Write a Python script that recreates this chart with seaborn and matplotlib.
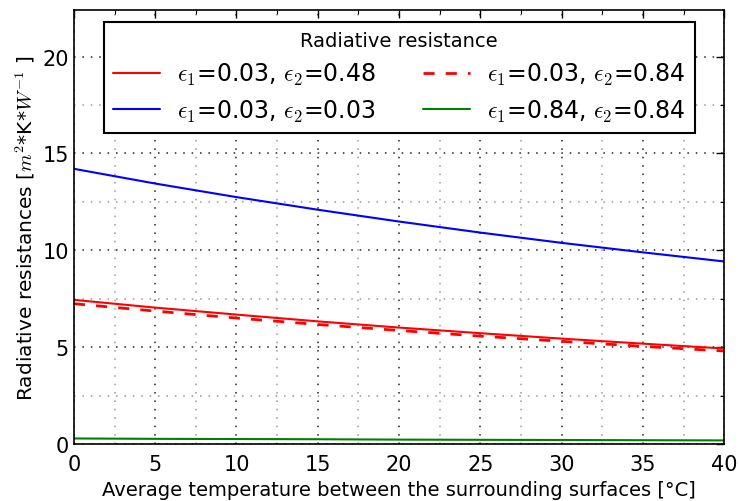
import seaborn as sns
import pandas as pd
import matplotlib.pyplot as plt
from matplotlib.ticker import MultipleLocator

# average temperature [C] and radiative resistance
temp = [0, 5, 10, 15, 20, 25, 30, 35, 40]
r_003_048 = [7.45, 7.05, 6.69, 6.34, 6.02, 5.73, 5.45, 5.19, 4.94]
r_003_003 = [14.21, 13.45, 12.75, 12.10, 11.49, 10.92, 10.39, 9.90, 9.43]
r_003_084 = [7.25, 6.87, 6.51, 6.18, 5.87, 5.58, 5.31, 5.05, 4.81]
r_084_084 = [0.30, 0.28, 0.27, 0.26, 0.24, 0.23, 0.22, 0.21, 0.20]

labels = [r"$\epsilon_1$=0.03, $\epsilon_2$=0.48",
          r"$\epsilon_1$=0.03, $\epsilon_2$=0.03",
          r"$\epsilon_1$=0.03, $\epsilon_2$=0.84",
          r"$\epsilon_1$=0.84, $\epsilon_2$=0.84"]

sns.set_style("white")
plt.rcParams['font.family'] = ['DejaVu Sans']
plt.rcParams['mathtext.fontset'] = 'cm'
plt.rcParams['text.color'] = 'black'
plt.rcParams['axes.labelcolor'] = 'black'
plt.rcParams['xtick.color'] = 'black'
plt.rcParams['ytick.color'] = 'black'

fig, ax = plt.subplots(figsize=(7.39, 5.02), dpi=100)

series = [r_003_048, r_003_003, r_003_084, r_084_084]
colors = ['red', 'blue', 'red', 'green']
styles = ['-', '-', (0, (4, 4)), '-']
for vals, c, ls, lab in zip(series, colors, styles, labels):
    df = pd.DataFrame({'T': temp, 'R': vals})
    sns.lineplot(data=df, x='T', y='R', color=c, linestyle=ls, label=lab,
                 linewidth=1.5 if ls == '-' else 2, ax=ax)

ax.set_xlim(0, 40)
ax.set_ylim(0, 22.4)
ax.xaxis.set_major_locator(MultipleLocator(5))
ax.xaxis.set_minor_locator(MultipleLocator(2.5))
ax.yaxis.set_major_locator(MultipleLocator(5))
ax.yaxis.set_minor_locator(MultipleLocator(2.5))
ax.tick_params(which='both', direction='in', top=True, right=True, labelsize=15)
ax.tick_params(which='major', length=6, width=1)
ax.tick_params(which='minor', length=3, width=0.8)
ax.tick_params(axis='x', pad=7)
ax.grid(which='major', color='#222222', linestyle=(0, (1, 4.5)), linewidth=1.1)
ax.grid(which='minor', color='#999999', linestyle=(0, (1, 4.5)), linewidth=1.1)
for s in ax.spines.values():
    s.set_color('black')
    s.set_linewidth(1.2)

ax.set_xlabel("Average temperature between the surrounding surfaces [°C]", fontsize=14)
ax.set_ylabel(r"Radiative resistances [$m^2$*K*$W^{-1}$ ]", fontsize=14.5)

leg = ax.legend(title="Radiative resistance", ncol=2, loc='upper center',
                fontsize=17, title_fontsize=14, fancybox=False, framealpha=1,
                edgecolor='black', handlelength=2.0, handletextpad=0.7,
                columnspacing=2.0, borderpad=0.4, labelspacing=0.45)
leg.get_frame().set_linewidth(1.5)

plt.subplots_adjust(left=0.1, right=0.98, top=0.978, bottom=0.113)
plt.savefig("out.png", dpi=100)
